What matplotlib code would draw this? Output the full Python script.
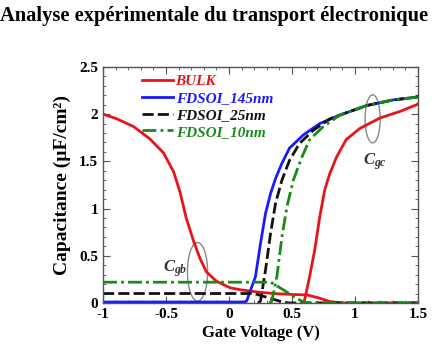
import matplotlib
matplotlib.use("Agg")
import matplotlib.pyplot as plt
from matplotlib.patches import Ellipse
from matplotlib.ticker import MultipleLocator

plt.rcParams["font.family"] = ["Liberation Serif", "DejaVu Serif"]
plt.rcParams["mathtext.fontset"] = "custom"
plt.rcParams["mathtext.it"] = "Liberation Serif:italic:bold"
plt.rcParams["mathtext.rm"] = "Liberation Serif:bold"

# BULK: gate-to-bulk (Cgb) and gate-to-channel (Cgc) branches
bulk_gb_v = [-1.0, -0.89, -0.76, -0.63, -0.52, -0.44, -0.39, -0.34, -0.28, -0.23, -0.18,
             -0.10, 0.01, 0.09, 0.2, 0.35, 0.5, 0.62, 0.72, 0.80, 0.9, 1.5]
bulk_gb_c = [2.0, 1.95, 1.87, 1.74, 1.59, 1.39, 1.18, 0.90, 0.65, 0.47, 0.33,
             0.23, 0.16, 0.14, 0.12, 0.10, 0.09, 0.085, 0.05, 0.015, 0.0, 0.0]
bulk_gc_v = [0.58, 0.60, 0.64, 0.68, 0.72, 0.76, 0.80, 0.855, 0.93, 1.04, 1.20, 1.36, 1.49, 1.5]
bulk_gc_c = [0.0, 0.03, 0.28, 0.56, 0.91, 1.20, 1.37, 1.55, 1.73, 1.85, 1.96, 2.03, 2.10, 2.11]

# FDSOI 145 nm
f145_v = [-1.0, 0.12, 0.14, 0.21, 0.25, 0.29, 0.33, 0.37, 0.42, 0.48, 0.59, 0.72, 0.88, 1.09, 1.30, 1.49, 1.5]
f145_c = [0.01, 0.01, 0.02, 0.28, 0.63, 0.95, 1.16, 1.32, 1.48, 1.64, 1.78, 1.90, 1.99, 2.09, 2.15, 2.18, 2.19]

# FDSOI 25 nm
f25_gb_v = [-1.0, 0.20, 0.30, 0.40, 0.47, 0.6, 1.5]
f25_gb_c = [0.1, 0.1, 0.06, 0.02, 0.0, 0.0, 0.0]
f25_gc_v = [0.23, 0.25, 0.29, 0.33, 0.37, 0.42, 0.48, 0.56, 0.67, 0.80, 0.88, 1.09, 1.30, 1.49, 1.5]
f25_gc_c = [0.0, 0.02, 0.35, 0.74, 1.06, 1.30, 1.51, 1.69, 1.83, 1.95, 1.99, 2.09, 2.15, 2.18, 2.19]

# FDSOI 10 nm
f10_gb_v = [-1.0, 0.33, 0.43, 0.51, 0.59, 0.65, 1.5]
f10_gb_c = [0.22, 0.22, 0.14, 0.07, 0.01, 0.0, 0.0]
f10_gc_v = [0.32, 0.34, 0.38, 0.42, 0.46, 0.51, 0.58, 0.64, 0.75, 0.88, 1.09, 1.30, 1.49, 1.5]
f10_gc_c = [0.0, 0.02, 0.28, 0.70, 1.02, 1.30, 1.55, 1.73, 1.87, 1.99, 2.09, 2.15, 2.18, 2.19]

fig = plt.figure(figsize=(4.48, 3.56), dpi=100)
ax = fig.add_axes([0.23, 0.149, 0.703, 0.663])

red, blue, black, green = "#e8141c", "#1a1aff", "#111111", "#1a8a1a"
lw = 2.0
ax.plot(bulk_gb_v, bulk_gb_c, color=red, lw=lw, label="BULK")
ax.plot(bulk_gc_v, bulk_gc_c, color=red, lw=lw)
ax.plot(f145_v, f145_c, color=blue, lw=lw, label="FDSOI_145nm")
ax.plot(f25_gb_v, f25_gb_c, color=black, lw=lw, ls=(0, (4, 1.5)), label="FDSOI_25nm")
ax.plot(f25_gc_v, f25_gc_c, color=black, lw=lw, ls=(0, (4, 1.5)))
ax.plot(f10_gb_v, f10_gb_c, color=green, lw=lw, ls=(0, (5, 1.5, 1, 1.5)), label="FDSOI_10nm")
ax.plot(f10_gc_v, f10_gc_c, color=green, lw=lw, ls=(0, (5, 1.5, 1, 1.5)))

# ellipses around Cgb and Cgc
ax.add_patch(Ellipse((-0.25, 0.33), 0.16, 0.62, fill=False, ec="#888888", lw=1))
ax.add_patch(Ellipse((1.14, 1.95), 0.12, 0.51, fill=False, ec="#888888", lw=1))
ax.text(-0.43, 0.36, r"$C_{gb}$", fontsize=12, ha="center", va="center", color="#333333")
ax.text(1.16, 1.50, r"$C_{gc}$", fontsize=12, ha="center", va="center", color="#333333")

ax.set_xlim(-1, 1.5)
ax.set_ylim(0, 2.5)
ax.xaxis.set_minor_locator(MultipleLocator(0.1))
ax.yaxis.set_minor_locator(MultipleLocator(0.1))
ax.set_xticks([-1, -0.5, 0, 0.5, 1, 1.5])
ax.set_xticklabels(["-1", "-0.5", "0", "0.5", "1", "1.5"])
ax.set_yticks([0, 0.5, 1, 1.5, 2, 2.5])
ax.set_yticklabels(["0", "0.5", "1", "1.5", "2", "2.5"])
ax.tick_params(which="both", direction="in", top=True, right=True, color="#555555")
ax.tick_params(which="major", length=5, labelsize=11)
ax.tick_params(which="minor", length=2.5)
for lab in ax.get_xticklabels() + ax.get_yticklabels():
    lab.set_fontweight("bold")
for sp in ax.spines.values():
    sp.set_color("#555555")
    sp.set_linewidth(1.0)

ax.set_xlabel("Gate Voltage (V)", fontsize=12, fontweight="bold", labelpad=3)
ax.set_ylabel("Capacitance (\u00b5F/cm\u00b2)", fontsize=14, fontweight="bold", labelpad=6)

leg = ax.legend(loc="upper left", bbox_to_anchor=(0.08, 1.025), frameon=False,
                handlelength=2.0, handletextpad=0.2, labelspacing=0.2,
                prop={"size": 11, "weight": "bold", "style": "italic"})
for txt, col in zip(leg.get_texts(), [red, blue, black, green]):
    txt.set_color(col)

fig.text(0.0, 0.955, "Analyse exp\u00e9rimentale du transport \u00e9lectronique",
         fontsize=14.8, fontweight="bold", ha="left", va="center")

fig.savefig("out.png", dpi=100)
